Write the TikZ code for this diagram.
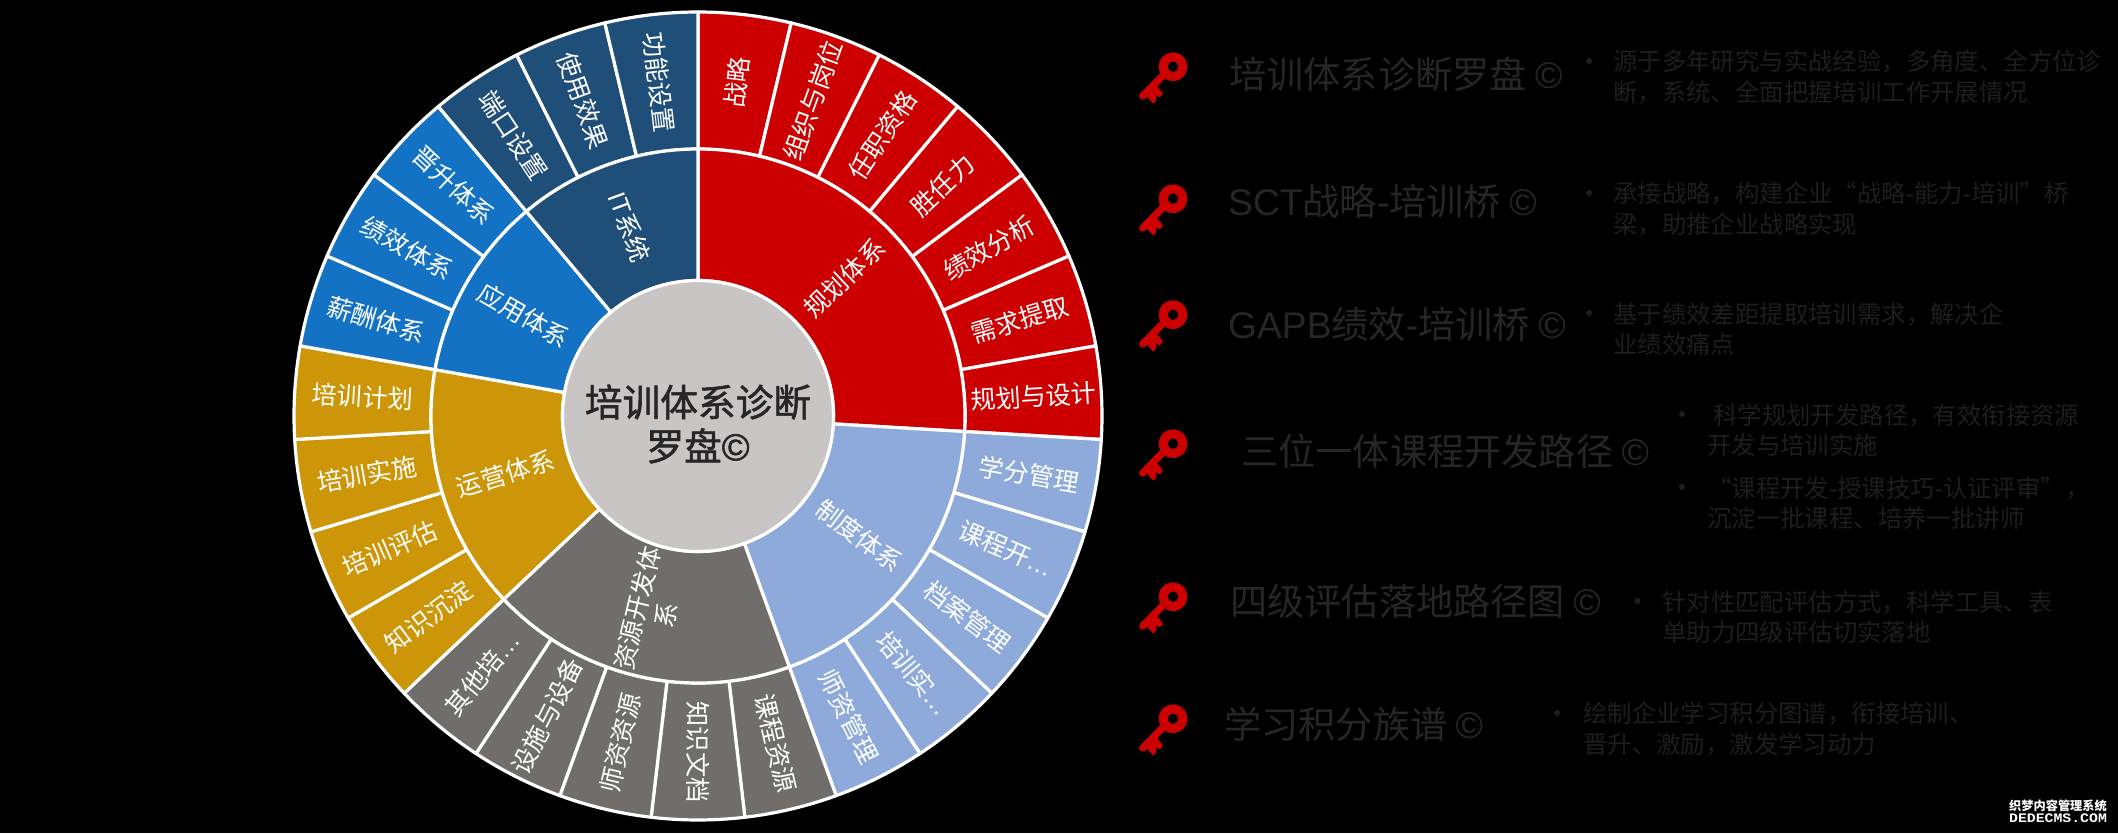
\documentclass[tikz,border=0pt]{standalone}
\usepackage{fontspec}
\setmainfont{Noto Sans CJK SC}
\newfontfamily\lat{Liberation Sans}
\newfontfamily\wmono{Liberation Mono}
\newfontfamily\corefont[FakeBold=1.5]{Noto Sans CJK SC}
\newfontfamily\latcore[FakeBold=1.5]{Liberation Sans}
\definecolor{cRed}{HTML}{CC0000}
\definecolor{cLight}{HTML}{8EAADB}
\definecolor{cGray}{HTML}{716D6B}
\definecolor{cGold}{HTML}{CC9608}
\definecolor{cBlue}{HTML}{1472C4}
\definecolor{cNavy}{HTML}{1F4E79}
\definecolor{cCore}{HTML}{C9C5C4}
\definecolor{cTitle}{HTML}{262626}
\definecolor{cBody}{HTML}{1E1E1E}
\tikzset{
  sector/.style={draw=white,line width=3.2pt,line join=round},
  seclabel/.style={text=white,inner sep=0pt,align=center,font=\fontsize{25.2}{30}\selectfont},
  titletext/.style={text=cTitle,inner sep=0pt,anchor=base west,font=\fontsize{37.2}{44}\selectfont},
  bodytext/.style={text=cBody,inner sep=0pt,anchor=west,align=left,font=\fontsize{24.4}{30.5}\selectfont},
  bulletdot/.style={circle,fill=cBody,inner sep=0pt,minimum size=6pt},
  wmark/.style={text=white,inner sep=0pt},
}
\newcommand{\ringsector}[5]{% from-deg, to-deg, r1, r2, colour (clockwise from top)
  \pgfmathsetmacro\aA{90-#1}\pgfmathsetmacro\aB{90-#2}
  \fill[#5,sector] (\aA:#3) arc[start angle=\aA,end angle=\aB,radius=#3] -- (\aB:#4) arc[start angle=\aB,end angle=\aA,radius=#4] -- cycle;
}
\newcommand{\keyicon}[2]{%
  \begin{scope}[shift={(#1,#2)},cRed]
    \fill[even odd rule] (0,0) circle[radius=14.3] (0,0) circle[radius=5.4];
    \draw[line width=7.2pt,line cap=round] (-8,-6.7) -- (-30.3,-29.3);
    \fill[rounded corners=1pt] (-26.3,-22.7) -- (-16.3,-19) -- (-9.7,-27) -- (-13.7,-31) -- (-16.3,-28.3) -- (-17.7,-30) -- (-16.3,-33.3) -- (-19.7,-37) -- (-26.3,-29.7) -- cycle;
  \end{scope}
}
\begin{document}
\begin{tikzpicture}[x=1pt,y=1pt]
\fill[black] (0,0) rectangle (2118,-833);
\useasboundingbox (0,0) rectangle (2118,-833);
\begin{scope}[shift={(698,-416)}]
  % outer ring
  \foreach \i/\c in {0/cRed,1/cRed,2/cRed,3/cRed,4/cRed,5/cRed,6/cRed,
                     7/cLight,8/cLight,9/cLight,10/cLight,11/cLight,
                     12/cGray,13/cGray,14/cGray,15/cGray,16/cGray,
                     17/cGold,18/cGold,19/cGold,20/cGold,
                     21/cBlue,22/cBlue,23/cBlue,
                     24/cNavy,25/cNavy,26/cNavy}{
    \pgfmathsetmacro\sa{\i*360/27}\pgfmathsetmacro\sb{(\i+1)*360/27}
    \ringsector{\sa}{\sb}{267}{404}{\c}
  }
  % middle ring
  \foreach \p/\q/\c in {0/7/cRed,7/12/cLight,12/17/cGray,17/21/cGold,21/24/cBlue,24/27/cNavy}{
    \pgfmathsetmacro\sa{\p*360/27}\pgfmathsetmacro\sb{\q*360/27}
    \ringsector{\sa}{\sb}{135.5}{267}{\c}
  }
  % outer labels
  \foreach \i/\t in {0/战略,1/组织与岗位,2/任职资格,3/胜任力,4/绩效分析,5/需求提取,6/规划与设计,
                     7/学分管理,8/{课程开{\lat…}},9/档案管理,10/{培训实{\lat…}},11/师资管理,
                     12/课程资源,13/知识文档,14/师资资源,15/设施与设备,16/{其他培{\lat…}},
                     17/知识沉淀,18/培训评估,19/培训实施,20/培训计划,
                     21/薪酬体系,22/绩效体系,23/晋升体系,
                     24/端口设置,25/使用效果,26/功能设置}{
    \pgfmathsetmacro\m{(\i+0.5)*360/27}
    \pgfmathsetmacro\rt{\m<180.01 ? 90-\m : 270-\m}
    \pgfmathsetmacro\pa{90-\m}
    \node[seclabel,rotate=\rt] (o\i) at (\pa:336) {\t};
  }
  % middle labels
  \foreach \n/\m/\t in {a/46.667/规划体系,b/126.667/制度体系,c/193.333/{资源开发体\\系},d/253.333/运营体系,e/300/应用体系,f/340/{{\lat IT}系统}}{
    \pgfmathsetmacro\rt{\m<180.01 ? 90-\m : 270-\m}
    \pgfmathsetmacro\pa{90-\m}
    \node[seclabel,rotate=\rt] (m\n) at (\pa:201) {\t};
  }
  \fill[cCore,draw=white,line width=3.2pt] (0,0) circle[radius=135.5];
\end{scope}
\node[inner sep=0pt,align=center,text=cTitle,font=\fontsize{37.7}{44}\corefont] (core) at (698,-424) {培训体系诊断\\罗盘{\latcore ©}};

% keys
\keyicon{1173}{-66.7}
\keyicon{1173}{-198.7}
\keyicon{1173}{-314.7}
\keyicon{1173}{-443.7}
\keyicon{1173}{-596.7}
\keyicon{1173}{-718.7}

% titles
\node[titletext] (t1) at (1229,-88) {培训体系诊断罗盘 {\lat ©}};
\node[titletext] (t2) at (1228,-215) {{\lat SCT}战略{\lat -}培训桥 {\lat ©}};
\node[titletext] (t3) at (1228,-338) {{\lat GAPB}绩效{\lat -}培训桥 {\lat ©}};
\node[titletext] (t4) at (1241,-465) {三位一体课程开发路径 {\lat ©}};
\node[titletext] (t5) at (1230,-615) {四级评估落地路径图 {\lat ©}};
\node[titletext] (t6) at (1224,-738) {学习积分族谱 {\lat ©}};

% bodies
\node[bulletdot] (b1) at (1589,-61) {};
\node[bodytext] (d1) at (1613,-77) {源于多年研究与实战经验，多角度、全方位诊\\断，系统、全面把握培训工作开展情况};
\node[bulletdot] (b2) at (1589,-193) {};
\node[bodytext] (d2) at (1613,-209) {承接战略，构建企业“战略{\lat -}能力{\lat -}培训”桥\\梁，助推企业战略实现};
\node[bulletdot] (b3) at (1589,-313) {};
\node[bodytext] (d3) at (1613,-329) {基于绩效差距提取培训需求，解决企\\业绩效痛点};
\node[bulletdot] (b4) at (1682,-414) {};
\node[bodytext] (d4) at (1707,-430) {\hspace*{6pt}科学规划开发路径，有效衔接资源\\开发与培训实施};
\node[bulletdot] (b5) at (1682,-487) {};
\node[bodytext] (d5) at (1707,-503) {“课程开发{\lat -}授课技巧{\lat -}认证评审”，\\沉淀一批课程、培养一批讲师};
\node[bulletdot] (b6) at (1637.5,-601) {};
\node[bodytext] (d6) at (1662,-617) {针对性匹配评估方式，科学工具、表\\单助力四级评估切实落地};
\node[bulletdot] (b7) at (1557,-713) {};
\node[bodytext] (d7) at (1583,-729) {绘制企业学习积分图谱，衔接培训、\\晋升、激励，激发学习动力};

% watermark
\node[wmark,font=\fontsize{12.2}{14}\selectfont\bfseries] (w1) at (2058,-805.5) {织梦内容管理系统};
\node[wmark,xscale=1.14,font=\fontsize{13}{14}\wmono\bfseries] (w2) at (2058,-818) {DEDECMS.COM};
\end{tikzpicture}
\end{document}
